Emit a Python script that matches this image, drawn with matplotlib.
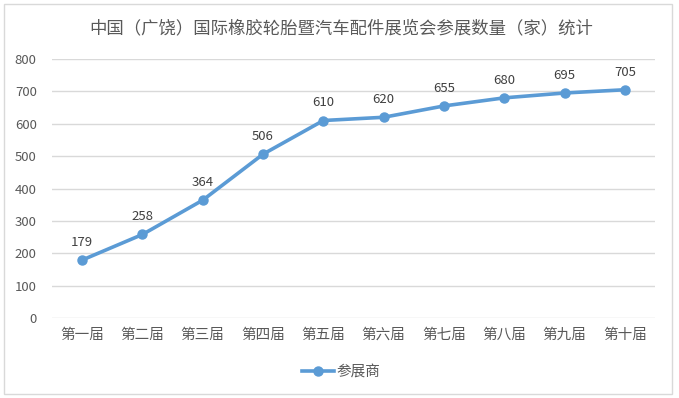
import matplotlib
matplotlib.use("Agg")
import matplotlib.pyplot as plt
import matplotlib.patches as patches

plt.rcParams['font.family'] = ['Noto Sans CJK SC', 'DejaVu Sans']

sessions = ['第一届', '第二届', '第三届', '第四届', '第五届', '第六届', '第七届', '第八届', '第九届', '第十届']
exhibitors = [179, 258, 364, 506, 610, 620, 655, 680, 695, 705]
title = '中国（广饶）国际橡胶轮胎暨汽车配件展览会参展数量（家）统计'

blue = '#5B9BD5'
grey_text = '#595959'

fig = plt.figure(figsize=(6.79, 3.98), dpi=100)
ax = fig.add_axes([52 / 679, 1 - 318 / 398, 603 / 679, (318 - 59) / 398])

x = range(len(sessions))
ax.plot(x, exhibitors, color=blue, linewidth=2.6, marker='o', markersize=6.5, label='参展商')
for i, v in enumerate(exhibitors):
    ax.annotate(str(v), (i, v), xytext=(0, 8), textcoords='offset points',
                ha='center', va='bottom', fontsize=9.5, color='#404040')

ax.set_xlim(-0.5, len(sessions) - 0.5)
ax.set_ylim(0, 800)
ax.set_yticks(range(0, 801, 100))
ax.set_xticks(list(x))
ax.set_xticklabels(sessions, fontsize=10.5)
ax.grid(axis='y', color='#D9D9D9', linewidth=1)
ax.set_axisbelow(True)
for s in ax.spines.values():
    s.set_visible(False)
ax.tick_params(length=0, colors=grey_text)
ax.tick_params(axis='x', pad=7)
ax.tick_params(axis='y', pad=11, labelsize=9.5)

fig.text(341 / 679, 1 - 28 / 398, title, ha='center', va='center', fontsize=12.5, color=grey_text)
fig.legend(loc='center', bbox_to_anchor=(341 / 679, 1 - 372 / 398), frameon=False,
           fontsize=10.5, handlelength=2.2, handletextpad=0.2, labelcolor=grey_text)

fig.patches.append(patches.Rectangle((4 / 679, 4 / 398), 668 / 679, 390 / 398,
                                     transform=fig.transFigure, fill=False,
                                     edgecolor='#D9D9D9', linewidth=1))

fig.savefig('out.png', dpi=100)
